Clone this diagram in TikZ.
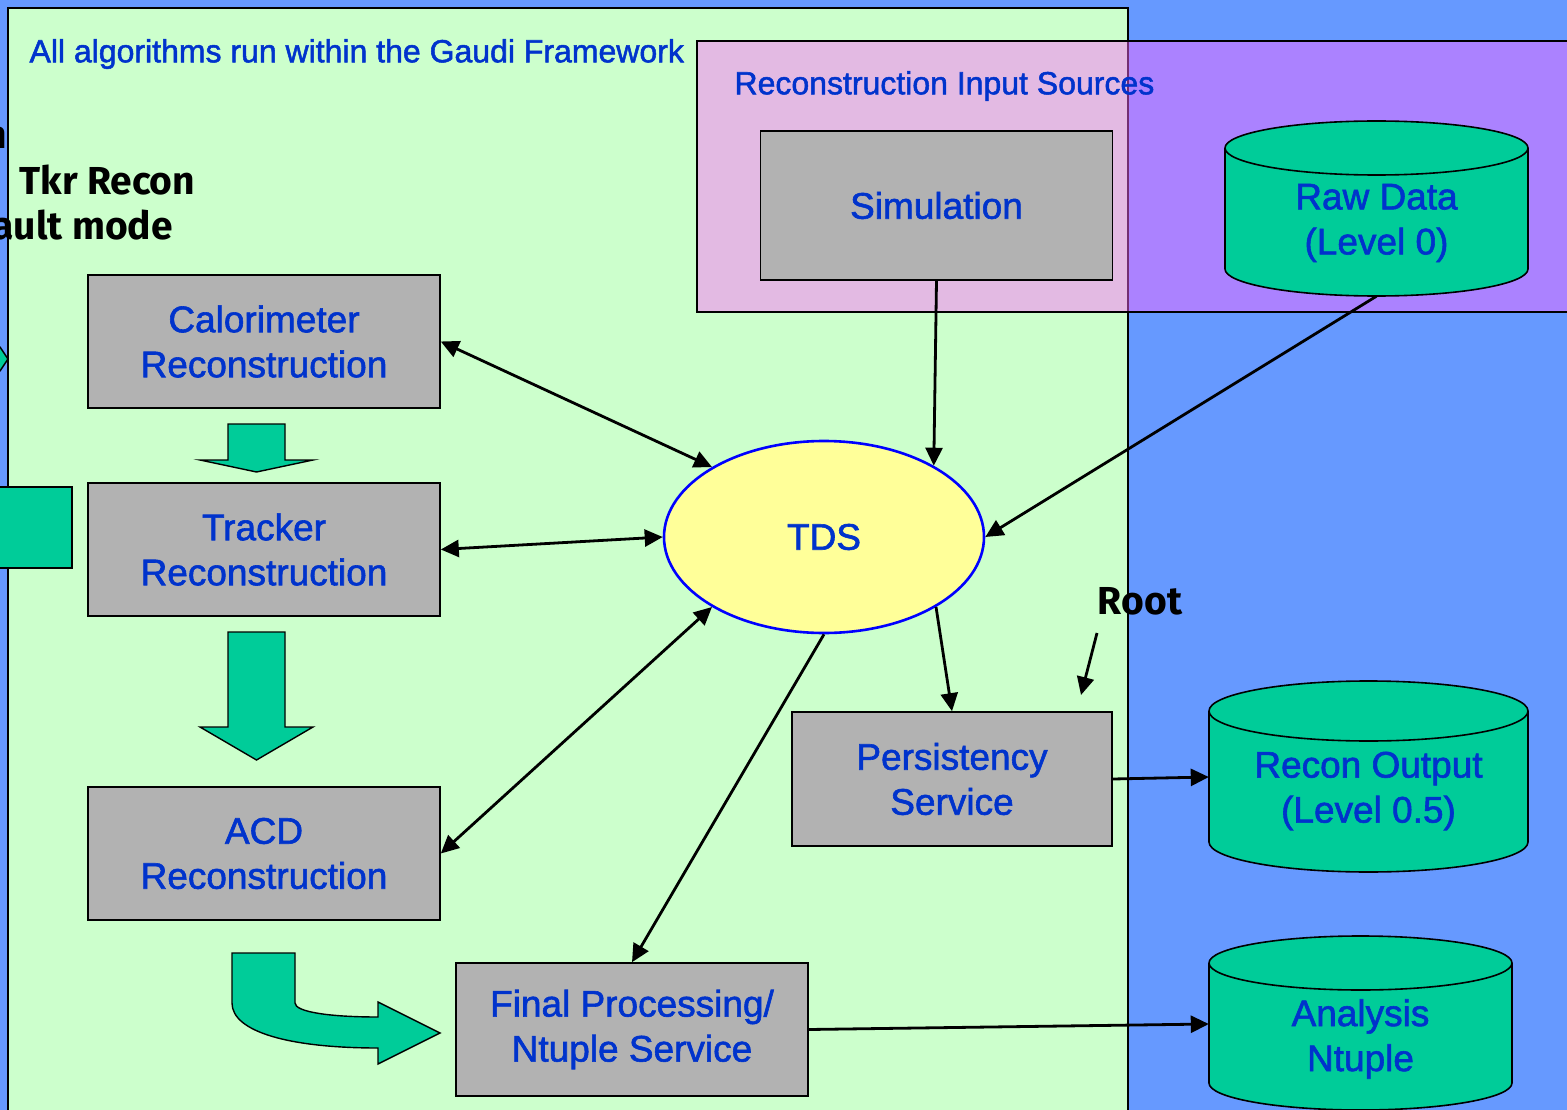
\documentclass[tikz,border=0pt]{standalone}
\usepackage{fontspec}
\setmainfont{Liberation Sans}
\newfontfamily\lblfont{Liberation Sans}[FakeBold=1.6]
\newfontfamily\handfont{Fira Sans}
\usetikzlibrary{arrows.meta,shapes.geometric}

\definecolor{bgblue}{HTML}{6699FF}
\definecolor{panelgreen}{HTML}{CCFFCC}
\definecolor{srcpink}{HTML}{FF66FF}
\definecolor{boxgray}{HTML}{B2B2B2}
\definecolor{dbgreen}{HTML}{00CC99}
\definecolor{labelblue}{HTML}{0033CC}
\definecolor{tdsyellow}{HTML}{FFFF99}

\tikzset{
  algbox/.style={draw=black, line width=1.6pt, fill=boxgray, minimum width=352pt,
    minimum height=133pt, align=center, text=labelblue,
    font=\lblfont\fontsize{37}{45}\selectfont},
  dbshape/.style={inner sep=0pt},
  dbtext/.style={align=center, text=labelblue, font=\lblfont\fontsize{37}{45}\selectfont},
  bigarrow/.style={draw=black, line width=1.4pt, fill=dbgreen},
  conn/.style={line width=2.8pt, -{Triangle[length=18pt,width=17pt]}},
  bconn/.style={line width=2.8pt, {Triangle[length=18pt,width=17pt]}-{Triangle[length=18pt,width=17pt]}},
  note/.style={font=\handfont\bfseries\fontsize{39}{45}\selectfont, text=black},
  cylfill/.style={fill=dbgreen},
  cyledge/.style={draw=black, line width=1.6pt},
}

% database drum: left x, right x, top-ellipse centre y, bottom-ellipse centre y, y radius
\newcommand{\drum}[5]{%
  \path[cylfill,cyledge] ({(#1+#2)/2},#4) ellipse [x radius={(#2-#1)/2}, y radius=#5];
  \fill[dbgreen] (#1,#3) rectangle (#2,#4);
  \draw[cyledge] (#1,#3) -- (#1,#4) (#2,#3) -- (#2,#4);
  \path[cylfill,cyledge] ({(#1+#2)/2},#3) ellipse [x radius={(#2-#1)/2}, y radius=#5];
}

\begin{document}
\begin{tikzpicture}[x=1pt,y=-1pt]
\useasboundingbox (0,0) rectangle (1567,1110);

% backdrop and framework panel
\fill[bgblue] (0,0) rectangle (1567,1110);
\path[fill=panelgreen, draw=black, line width=1.6pt] (8,8) rectangle (1128,1130);

% input sources region
\path[fill=srcpink, fill opacity=0.45, draw=black, line width=1.6pt] (697,41) rectangle (1590,312);

% headings
\node[anchor=west, text=labelblue, font=\lblfont\fontsize{32}{38}\selectfont] (hdr) at (26,54)
  {All algorithms run within the Gaudi Framework};
\node[anchor=west, text=labelblue, font=\lblfont\fontsize{32}{38}\selectfont] (srchdr) at (731,86)
  {Reconstruction Input Sources};

% handwritten notes at the left edge
\node[note, anchor=base east] (n1) at (11,149) {n};
\node[note, anchor=base west] (n2) at (16,195) {Tkr Recon};
\node[note, anchor=base west] (n3) at (-11,240) {ault mode};

% partial shapes at the left edge
\path[bigarrow] (-10,347) -- (0,347) -- (8,359) -- (0,371) -- (-10,371) -- cycle;
\path[bigarrow] (-10,487) rectangle (72,568);

% algorithm boxes
\node[algbox] (cal) at (264,341.5) {Calorimeter\\Reconstruction};
\node[algbox] (trk) at (264,549.5) {Tracker\\Reconstruction};
\node[algbox] (acd) at (264,853.5) {ACD\\Reconstruction};
\node[algbox, minimum height=149pt] (sim) at (936.5,205.5) {Simulation};
\node[algbox, minimum width=320pt, minimum height=134pt] (pers) at (952,779) {Persistency\\Service};
\node[algbox] (fin) at (632,1029.5) {Final Processing/\\Ntuple Service};

% transient data store
\node[ellipse, draw=blue, line width=2.6pt, fill=tdsyellow, minimum width=320pt,
  minimum height=192pt, inner sep=0pt, text=labelblue,
  font=\lblfont\fontsize{37}{45}\selectfont] (tds) at (824,537) {TDS};

% databases
\drum{1225}{1528}{148}{269}{27}
\node[dbshape, minimum width=303pt, minimum height=176pt] (raw) at (1376.5,208) {};
\node[dbtext] (rawlbl) at (1376.5,223) {Raw Data\\(Level 0)};
\drum{1209}{1528}{711}{842}{30}
\node[dbshape, minimum width=319pt, minimum height=191pt] (rec) at (1368.5,777) {};
\node[dbtext] (reclbl) at (1368.5,791) {Recon Output\\(Level 0.5)};
\drum{1209}{1512}{963}{1083}{27}
\node[dbshape, minimum width=303pt, minimum height=174pt] (ana) at (1360.5,1024) {};
\node[dbtext] (analbl) at (1360.5,1039) {Analysis\\Ntuple};

% flow arrows between algorithms
\path[bigarrow] (228,424) -- (285,424) -- (285,460) -- (313,460) -- (256.5,472)
  -- (200,460) -- (228,460) -- cycle;
\path[bigarrow] (228,632) -- (285,632) -- (285,727) -- (313,727) -- (256.5,760)
  -- (200,727) -- (228,727) -- cycle;
\path[bigarrow] (232,953) -- (295,953) -- (295,1003)
  .. controls (295,1012) and (330,1017) .. (378,1017) -- (378,1002) -- (440,1033)
  -- (378,1064) -- (378,1048) .. controls (290,1048) and (232,1032) .. (232,1003) -- cycle;

% data connectors
\draw[bconn] (cal.east) -- (tds.148);
\draw[bconn] (trk.east) -- (tds.west);
\draw[bconn] (acd.east) -- (tds.212);
\draw[conn] (sim.south) -- (tds.33);
\draw[conn] (raw.south) -- (tds.east);
\draw[conn] (tds.-32) -- (pers.north);
\draw[conn] (tds.south) -- (fin.north);
\draw[conn] (pers.east) -- (rec.west);
\draw[conn] (fin.east) -- (ana.west);

% Root note
\node[note] (root) at (1140,601) {Root};
\coordinate (rootpt) at (1081,695);
\draw[conn] (1097,633) -- (rootpt);
\end{tikzpicture}
\end{document}
